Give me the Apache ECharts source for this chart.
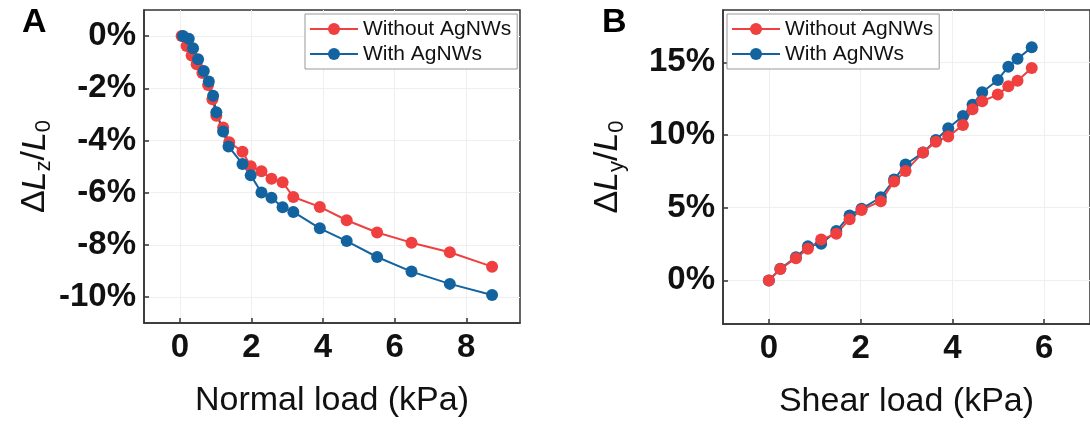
<!DOCTYPE html>
<html>
<head>
<meta charset="utf-8">
<script src="https://cdn.jsdelivr.net/npm/echarts@6/dist/echarts.min.js"></script>
<style>
  html, body { margin: 0; padding: 0; background: #fff; }
  #chart { width: 1090px; height: 427px; }
</style>
</head>
<body>
<div id="chart"></div>
<script>
// panel A: normal load (kPa) vs strain (%)
const normalLoadWithout = [0.05, 0.19, 0.33, 0.47, 0.63, 0.79, 0.91, 1.02, 1.21, 1.38, 1.75, 1.98, 2.28, 2.56, 2.87, 3.17, 3.91, 4.66, 5.51, 6.47, 7.54, 8.72]
const strainZWithout = [0, -0.38, -0.74, -1.08, -1.42, -1.88, -2.42, -3.05, -3.50, -4.07, -4.43, -4.99, -5.18, -5.47, -5.60, -6.17, -6.55, -7.06, -7.53, -7.92, -8.29, -8.84]
const normalLoadWith = [0.09, 0.25, 0.37, 0.51, 0.67, 0.81, 0.93, 1.02, 1.21, 1.36, 1.75, 1.98, 2.28, 2.56, 2.87, 3.17, 3.91, 4.66, 5.51, 6.47, 7.54, 8.72]
const strainZWith = [0, -0.10, -0.47, -0.89, -1.34, -1.74, -2.29, -2.92, -3.66, -4.23, -4.90, -5.34, -6.00, -6.20, -6.56, -6.74, -7.37, -7.86, -8.47, -9.03, -9.50, -9.93]

// panel B: shear load (kPa) vs strain (%)
const shearLoad = [0, 0.25, 0.59, 0.85, 1.14, 1.47, 1.76, 2.02, 2.44, 2.73, 2.98, 3.36, 3.64, 3.91, 4.23, 4.44, 4.65, 4.99, 5.22, 5.42, 5.73]
const strainYWithout = [0, 0.78, 1.53, 2.18, 2.82, 3.21, 4.21, 4.85, 5.45, 6.80, 7.53, 8.79, 9.53, 9.89, 10.69, 11.77, 12.32, 12.78, 13.35, 13.74, 14.61]
const strainYWith = [0, 0.80, 1.60, 2.34, 2.52, 3.39, 4.47, 4.92, 5.72, 6.94, 7.97, 8.79, 9.66, 10.47, 11.31, 12.09, 12.94, 13.79, 14.70, 15.25, 16.03]

// tick labels
const xTicksA = [0, 2, 4, 6, 8]
const yTicksA = [0, -2, -4, -6, -8, -10]
const xTicksB = [0, 2, 4, 6]
const yTicksB = [0, 5, 10, 15]

const seriesNames = ['Without AgNWs', 'With AgNWs']
const RED = '#ef3f3f'
const BLUE = '#12639f'
const FONT = 'Liberation Sans, Arial, sans-serif'

const pair = (xs, ys) => xs.map((x, i) => [x, ys[i]])

const valueAxis = (ticks, extra) => Object.assign({
  type: 'value',
  axisLine: { show: true, onZero: false, lineStyle: { color: '#333', width: 1.5 } },
  axisTick: { show: true, inside: true, length: 5, customValues: ticks, lineStyle: { color: '#333', width: 1.5 } },
  axisLabel: { customValues: ticks, color: '#111', fontFamily: FONT, fontWeight: 'bold', fontSize: 33 },
  splitLine: { show: true, lineStyle: { color: '#efefef', width: 1 } }
}, extra)

const yName = sub => '{d|Δ}{i|L}{s|' + sub + '}{d|/}{i|L}{s|0}'
const yNameStyle = {
  fontFamily: FONT,
  rich: {
    d: { fontSize: 34, fontFamily: FONT, color: '#111', lineHeight: 40, verticalAlign: 'middle' },
    i: { fontSize: 34, fontFamily: FONT, fontStyle: 'italic', color: '#111', lineHeight: 40, verticalAlign: 'middle' },
    s: { fontSize: 22, fontFamily: FONT, color: '#111', lineHeight: 40, verticalAlign: 'bottom' }
  }
}
const xNameStyle = { fontFamily: FONT, fontSize: 34, color: '#111' }

const lineSeries = (name, color, data, xi, yi) => ({
  name,
  type: 'line',
  xAxisIndex: xi,
  yAxisIndex: yi,
  data,
  symbol: 'circle',
  symbolSize: 12,
  lineStyle: { color, width: 2 },
  itemStyle: { color },
  emphasis: { disabled: true }
})

const legendBase = {
  orient: 'vertical',
  itemWidth: 48,
  itemHeight: 15,
  itemGap: 1,
  padding: [3, 6, 3, 4],
  backgroundColor: '#fff',
  borderColor: '#999',
  borderWidth: 1,
  data: seriesNames,
  textStyle: { fontFamily: FONT, fontSize: 21, color: '#111', lineHeight: 24 }
}

const chart = echarts.init(document.getElementById('chart'))
chart.setOption({
  animation: false,
  graphic: [
    { type: 'text', left: 22, top: 6, style: { text: 'A', font: 'bold 34px ' + FONT, fill: '#000' } },
    { type: 'text', left: 602, top: 6, style: { text: 'B', font: 'bold 34px ' + FONT, fill: '#000' } }
  ],
  grid: [
    { left: 144, top: 10, width: 376, height: 313, show: true, borderColor: '#333', borderWidth: 1.5 },
    { left: 723, top: 10, width: 374, height: 314, show: true, borderColor: '#333', borderWidth: 1.5 }
  ],
  legend: [
    Object.assign({ left: 305, top: 14 }, legendBase),
    Object.assign({ left: 727, top: 14 }, legendBase)
  ],
  xAxis: [
    valueAxis(xTicksA, {
      gridIndex: 0, min: -1, max: 9.5,
      name: 'Normal load (kPa)', nameLocation: 'middle', nameGap: 61, nameTextStyle: xNameStyle
    }),
    valueAxis(xTicksB, {
      gridIndex: 1, min: -1, max: 7,
      name: 'Shear load (kPa)', nameLocation: 'middle', nameGap: 61, nameTextStyle: xNameStyle
    })
  ],
  yAxis: [
    valueAxis(yTicksA, {
      gridIndex: 0, min: -11, max: 1,
      name: yName('z'), nameLocation: 'middle', nameRotate: 90, nameGap: 86, nameTextStyle: yNameStyle
    }),
    valueAxis(yTicksB, {
      gridIndex: 1, min: -3, max: 18.6,
      name: yName('y'), nameLocation: 'middle', nameRotate: 90, nameGap: 95, nameTextStyle: yNameStyle
    })
  ],
  series: [
    lineSeries(seriesNames[0], RED, pair(normalLoadWithout, strainZWithout), 0, 0),
    lineSeries(seriesNames[1], BLUE, pair(normalLoadWith, strainZWith), 0, 0),
    lineSeries(seriesNames[1], BLUE, pair(shearLoad, strainYWith), 1, 1),
    lineSeries(seriesNames[0], RED, pair(shearLoad, strainYWithout), 1, 1)
  ]
})
// percent formatting on y labels
chart.setOption({
  yAxis: [
    { axisLabel: { formatter: v => v + '%' } },
    { axisLabel: { formatter: v => v + '%' } }
  ]
})
</script>
</body>
</html>
